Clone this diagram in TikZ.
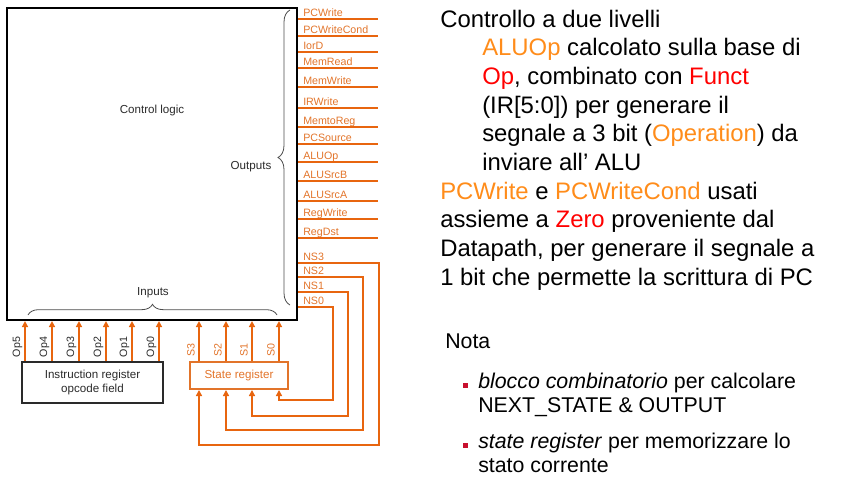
\documentclass[tikz,border=0pt]{standalone}
\usepackage{fontspec}
\setmainfont{Liberation Sans}
\usepackage{xcolor}
\usepackage{tikz}
\usetikzlibrary{arrows.meta,calc,decorations.pathreplacing}
\definecolor{wireorange}{HTML}{E8650F}
\definecolor{labelorange}{HTML}{E2742A}
\definecolor{textorange}{HTML}{FF8C1A}
\definecolor{textred}{HTML}{FF0000}
\definecolor{bulletred}{HTML}{C8102E}
\definecolor{inkgray}{HTML}{2A2A2A}
\newcommand{\orng}[1]{\textcolor{textorange}{#1}}
\newcommand{\rd}[1]{\textcolor{textred}{#1}}

\begin{document}
\begin{tikzpicture}[x=0.75pt,y=-0.75pt,
    wire/.style={wireorange,line width=1.5pt},
    tipup/.style={-{Triangle[width=4.5pt,length=4.5pt]}},
    outlbl/.style={labelorange,font=\fontsize{8}{9}\selectfont,anchor=base west,inner sep=0pt},
    sidelbl/.style={font=\fontsize{8}{9}\selectfont,rotate=90,inner sep=0pt},
    boxlbl/.style={inkgray,font=\fontsize{8.7}{10}\selectfont,inner sep=0pt},
    brc/.style={decorate,decoration={brace,amplitude=#1},black!70,line width=0.6pt},
    bigline/.style={font=\fontsize{17.9}{21.5}\selectfont,anchor=base west,inner sep=0pt},
    noteline/.style={font=\fontsize{16}{18}\selectfont,anchor=base west,inner sep=0pt}]
  \useasboundingbox (0,0) rectangle (865,489);
  % control logic block
  \node[draw=black,line width=1.6pt,minimum width=217.5pt,minimum height=234pt] (ctrl) at (152,164) {};
  \node[boxlbl] (ctrllbl) at (152,110) {Control logic};
  \node[boxlbl] (outlbl) at (251,167) {Outputs};
  \node[boxlbl] (inlbl) at (153,293) {Inputs};
  \draw[brc=9pt] (290,305) -- (290,10);
  \draw[brc=8pt] (28,315) -- (277,315);
  % registers
  \node[draw=black,line width=1.5pt,minimum width=105.75pt,minimum height=30.75pt,align=center,boxlbl] (ir) at (92.5,382.5) {Instruction register\\opcode field};
  \node[draw=wireorange,line width=1.5pt,minimum width=73.5pt,minimum height=20.25pt,boxlbl,labelorange] (sreg) at (239,375.5) {State register};
  % outputs
  \foreach \y/\name [count=\i] in {19/PCWrite,36/PCWriteCond,52/IorD,68/MemRead,87/MemWrite,108/IRWrite,127/MemtoReg,144/PCSource,162/ALUOp,181/ALUSrcB,201/ALUSrcA,219/RegWrite,238/RegDst} {
    \coordinate (oe\i) at (378,\y);
    \draw[wire] (ctrl.east |- oe\i) -- (oe\i);
    \node[outlbl] (ol\i) at (303,\y-2.5) {\name};
  }
  % opcode inputs
  \foreach \x/\k in {159/0,132/1,106/2,79/3,52/4,25/5} {
    \coordinate (oc\k) at (\x,347);
    \draw[wire,tipup] (ir.north -| oc\k) -- (ctrl.south -| oc\k);
    \node[sidelbl,inkgray] (opl\k) at (\x-7.5,347) {Op\k};
  }
  % next state feedback
  \foreach \y/\xv/\yb/\xs/\k in {263/379/445/199/3,277/363/430/226/2,292/348/416/252/1,307/333/400/279/0} {
    \coordinate (na\k) at (\xv,\y);
    \coordinate (nb\k) at (\xv,\yb);
    \coordinate (sc\k) at (\xs,350);
    \draw[wire,line width=1.3pt,tipup] (ctrl.east |- na\k) -- (na\k) -- (nb\k) -- (nb\k -| sc\k) -- (sreg.south -| sc\k);
    \node[outlbl] (nl\k) at (303,\y-2.5) {NS\k};
    \draw[wire,tipup] (sreg.north -| sc\k) -- (ctrl.south -| sc\k);
    \node[sidelbl,labelorange] (sl\k) at (\xs-8,350) {S\k};
  }
  % text on the right
  \foreach \x/\txt [count=\i from 0] in {440/{Controllo a due livelli},
      482/{\orng{ALUOp} calcolato sulla base di},
      482/{\rd{Op}, combinato con \rd{Funct}},
      482/{(IR[5:0]) per generare il},
      482/{segnale a 3 bit (\orng{Operation}) da},
      482/{inviare all’ ALU},
      440/{\orng{PCWrite} e \orng{PCWriteCond} usati},
      440/{assieme a \rd{Zero} proveniente dal},
      440/{Datapath, per generare il segnale a},
      440/{1 bit che permette la scrittura di PC}}
    \node[bigline] (t\i) at (\x,{27+28.7*\i}) {\txt};
  \node[noteline] (nota) at (445,348) {Nota};
  \foreach \y/\txt [count=\i] in {388/{\textit{blocco combinatorio} per calcolare},
      412/{NEXT\_STATE \& OUTPUT},
      448/{\textit{state register} per memorizzare lo},
      472/{stato corrente}}
    \node[noteline] (n\i) at (478,\y) {\txt};
  \node[fill=bulletred,minimum size=3.75pt,inner sep=0pt] (b1) at (465,385) {};
  \node[fill=bulletred,minimum size=3.75pt,inner sep=0pt] (b2) at (465,445) {};
\end{tikzpicture}
\end{document}
